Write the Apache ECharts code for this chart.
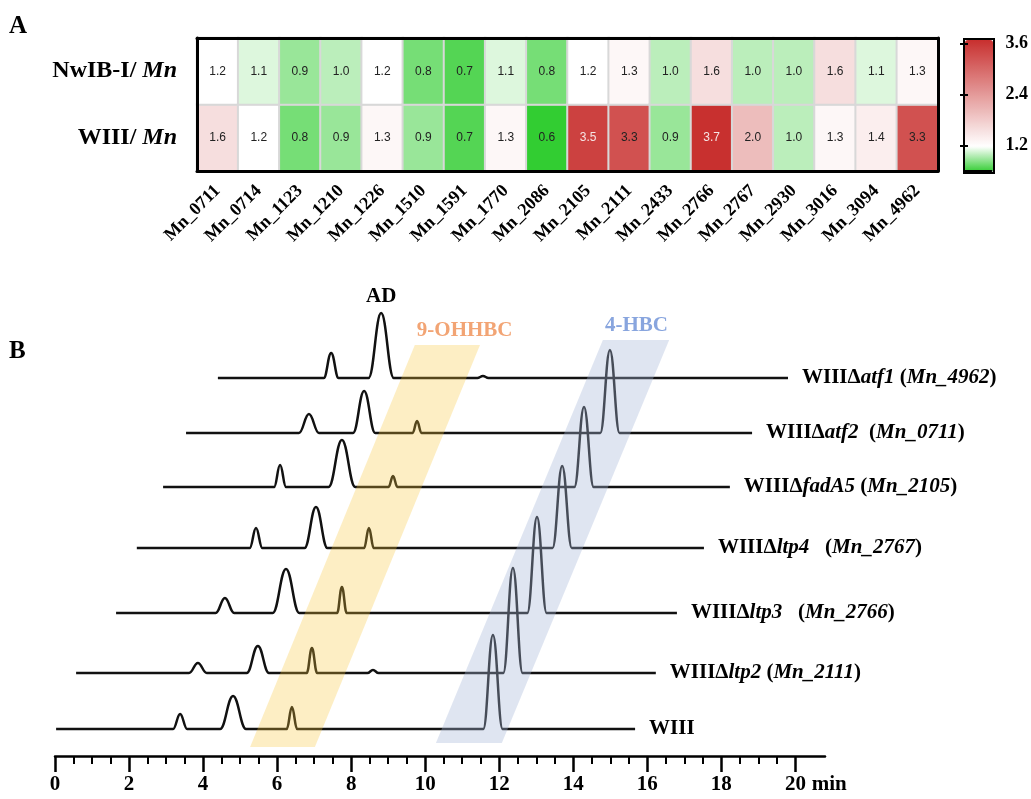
<!DOCTYPE html>
<html>
<head>
<meta charset="utf-8">
<title>Expression heatmap and HPLC traces</title>
<script src="https://cdn.jsdelivr.net/npm/echarts@6.0.0/dist/echarts.min.js"></script>
<style>
  html, body { margin: 0; padding: 0; background: #fff; }
  #main { width: 1031px; height: 799px; }
</style>
</head>
<body>
<div id="main"></div>
<script>
// ---- panel A: fold change heatmap ----
const genes = ['Mn_0711', 'Mn_0714', 'Mn_1123', 'Mn_1210', 'Mn_1226', 'Mn_1510', 'Mn_1591', 'Mn_1770', 'Mn_2086',
  'Mn_2105', 'Mn_2111', 'Mn_2433', 'Mn_2766', 'Mn_2767', 'Mn_2930', 'Mn_3016', 'Mn_3094', 'Mn_4962'];
const rowNames = ['WIII/ Mn', 'NwIB-I/ Mn'];
const nwibValues = [1.2, 1.1, 0.9, 1.0, 1.2, 0.8, 0.7, 1.1, 0.8, 1.2, 1.3, 1.0, 1.6, 1.0, 1.0, 1.6, 1.1, 1.3];
const wiiiValues = [1.6, 1.2, 0.8, 0.9, 1.3, 0.9, 0.7, 1.3, 0.6, 3.5, 3.3, 0.9, 3.7, 2.0, 1.0, 1.3, 1.4, 3.3];
const colorTicks = [1.2, 2.4, 3.6];

// ---- panel B: chromatograms (time in min, signal in arbitrary units) ----
const traceNames = ['WIII', 'ltp2', 'ltp3', 'ltp4', 'fadA5', 'atf2', 'atf1'];
const traceGenes = ['', 'Mn_2111', 'Mn_2766', 'Mn_2767', 'Mn_2105', 'Mn_0711', 'Mn_4962'];
const traceStart = [0.03, 0.57, 1.65, 2.21, 2.92, 3.54, 4.40];
const traceEnd = [15.67, 16.23, 16.80, 17.53, 18.23, 18.83, 19.80];
const traceBase = [27, 83, 143, 208, 269, 323, 378];
// peaks: [retention time, height, half base width]
const tracePeaks = [
  [[3.38, 15, 0.19], [4.81, 33, 0.35], [6.40, 22, 0.14], [11.83, 94, 0.26]],
  [[3.86, 10, 0.24], [5.48, 27, 0.30], [6.94, 25, 0.14], [8.59, 3, 0.15], [12.37, 105, 0.26]],
  [[4.59, 15, 0.25], [6.24, 44, 0.36], [7.75, 26, 0.13], [13.02, 96, 0.26]],
  [[5.43, 20, 0.17], [7.05, 41, 0.31], [8.48, 20, 0.13], [13.70, 82, 0.26]],
  [[6.08, 22, 0.16], [7.75, 47, 0.36], [9.13, 11, 0.12], [14.29, 80, 0.26]],
  [[6.86, 19, 0.27], [8.35, 42, 0.30], [9.78, 12, 0.12], [14.99, 83, 0.26]],
  [[7.46, 25, 0.20], [8.81, 65, 0.34], [11.56, 2, 0.15]]
];
const bandNames = ['9-OHHBC', '4-HBC'];
const bandBottom = [[5.27, 7.02], [10.29, 12.07]];
const bandTop = [[9.72, 11.48], [14.80, 16.59]];
const bandLevels = [[9, 411], [13, 416]];
const timeTicks = [0, 2, 4, 6, 8, 10, 12, 14, 16, 18, 20];

const serif = '"Liberation Serif", "Times New Roman", serif';
const bandFill = ['rgba(250, 200, 60, 0.3)', 'rgba(165, 182, 215, 0.36)'];
const bandText = ['#f2a474', '#88a5de'];

// minor ticks every 0.5 min between the labelled ones
const minorTicks = [];
for (let t = 0.5; t < 20; t += 0.5) {
  if (t % 2 !== 0) minorTicks.push(t);
}

// colour ramp: limegreen at 0.6, white at 1.2, red at 3.7 (stops every 0.1)
function mix(a, b, t) {
  const c = a.map((v, k) => Math.round(v + (b[k] - v) * t));
  return 'rgb(' + c.join(',') + ')';
}
const green = [50, 205, 50], white = [255, 255, 255], red = [200, 48, 47];
const rampStops = [];
for (let k = 0; k <= 31; k++) {
  rampStops.push(k <= 6 ? mix(green, white, k / 6) : mix(white, red, (k - 6) / 25));
}

const heatData = [];
genes.forEach((g, i) => {
  [wiiiValues[i], nwibValues[i]].forEach((v, r) => {
    heatData.push({ value: [i, r, v], label: { color: v > 3.4 ? '#f6e4e4' : '#222' } });
  });
});

function tracePoints(i) {
  const base = traceBase[i];
  const pts = [[traceStart[i], base]];
  tracePeaks[i].forEach(([t, h, w]) => {
    pts.push([t - w, base], [t, base + h], [t + w, base]);
  });
  pts.push([traceEnd[i], base]);
  return pts;
}

function traceLabel(i) {
  if (!traceGenes[i]) return '{b|' + traceNames[i] + '}';
  const gap = traceNames[i].startsWith('ltp3') || traceNames[i].startsWith('ltp4') ? '   ' :
    (traceNames[i] === 'atf2' ? '  ' : ' ');
  return '{b|WIIIΔ}{i|' + traceNames[i] + '}{b|' + gap + '(}{i|' + traceGenes[i] + '}{b|)}';
}

const labelRich = {
  b: { fontFamily: serif, fontWeight: 'bold', fontSize: 21, color: '#000' },
  i: { fontFamily: serif, fontWeight: 'bold', fontStyle: 'italic', fontSize: 21, color: '#000' }
};

const lineSeries = traceNames.map((name, i) => {
  const s = {
    type: 'line',
    name: name,
    xAxisIndex: 2,
    yAxisIndex: 2,
    data: tracePoints(i),
    smooth: 0.42,
    smoothMonotone: 'x',
    showSymbol: false,
    symbol: 'none',
    silent: true,
    z: 3,
    lineStyle: { color: '#111', width: 2.5 },
    endLabel: { show: true, distance: 14, formatter: traceLabel(i), rich: labelRich }
  };
  if (name === 'atf1') {
    const ad = tracePeaks[i][1];
    s.markPoint = {
      symbol: 'circle', symbolSize: 0, silent: true,
      data: [{ coord: [ad[0], traceBase[i] + ad[1]], value: 'AD' }],
      label: { show: true, position: 'top', distance: 6, formatter: 'AD', color: '#000',
        fontFamily: serif, fontWeight: 'bold', fontSize: 21 }
    };
  }
  return s;
});

var myChart = echarts.init(document.getElementById('main'));

var option = {
  animation: false,
  backgroundColor: '#fff',
  title: [
    { text: 'A', left: 9, top: 14, padding: 0, textStyle: { fontFamily: serif, fontWeight: 'bold', fontSize: 25, color: '#000' } },
    { text: 'B', left: 9, top: 339, padding: 0, textStyle: { fontFamily: serif, fontWeight: 'bold', fontSize: 25, color: '#000' } }
  ],
  grid: [
    { left: 197, top: 38, width: 741, height: 133 },
    { left: 55, top: 280, width: 770, height: 476 },
    { left: 964, top: 39, width: 28, height: 132 }
  ],
  xAxis: [
    {
      type: 'category', gridIndex: 0, data: genes, z: 10,
      axisLine: { lineStyle: { color: '#000', width: 3 } },
      axisTick: { alignWithLabel: true, length: 8, lineStyle: { color: '#000', width: 3 } },
      axisLabel: { interval: 0, rotate: 45, margin: 17, color: '#000', fontFamily: serif, fontWeight: 'bold', fontSize: 18 },
      splitLine: { show: false }
    },
    {
      type: 'category', gridIndex: 0, data: genes, position: 'top', z: 10,
      axisLine: { lineStyle: { color: '#000', width: 3 } },
      axisTick: { show: false }, axisLabel: { show: false }
    },
    {
      type: 'value', gridIndex: 1, min: 0, max: 20.8,
      axisLine: { lineStyle: { color: '#000', width: 2.5 } },
      axisTick: { customValues: timeTicks, length: 16, lineStyle: { color: '#000', width: 2.5 } },
      axisLabel: { customValues: timeTicks, margin: 18, color: '#000', fontFamily: serif, fontWeight: 'bold', fontSize: 21 },
      splitLine: { show: false },
      name: 'min', nameLocation: 'end', nameGap: 0,
      nameTextStyle: { align: 'center', verticalAlign: 'top', padding: [18, 0, 0, 0], color: '#000',
        fontFamily: serif, fontWeight: 'bold', fontSize: 21 }
    },
    {
      type: 'value', gridIndex: 1, min: 0, max: 20.8, position: 'bottom',
      axisLine: { show: false },
      axisTick: { customValues: minorTicks, length: 8, lineStyle: { color: '#000', width: 2 } },
      axisLabel: { show: false }, splitLine: { show: false }
    },
    {
      type: 'value', gridIndex: 2, min: 0, max: 1, z: 10,
      axisLine: { lineStyle: { color: '#000', width: 2 } },
      axisTick: { show: false }, axisLabel: { show: false }, splitLine: { show: false }
    },
    {
      type: 'value', gridIndex: 2, min: 0, max: 1, position: 'top', z: 10,
      axisLine: { lineStyle: { color: '#000', width: 2 } },
      axisTick: { show: false }, axisLabel: { show: false }, splitLine: { show: false }
    }
  ],
  yAxis: [
    {
      type: 'category', gridIndex: 0, data: rowNames, z: 10,
      axisLine: { lineStyle: { color: '#000', width: 3 } },
      axisTick: { alignWithLabel: true, length: 8, lineStyle: { color: '#000', width: 3 } },
      axisLabel: {
        margin: 20,
        formatter: function (v) {
          const parts = v.split('/ ');
          return '{b|' + parts[0] + '/ }{i|' + parts[1] + '}';
        },
        rich: {
          b: { fontFamily: serif, fontWeight: 'bold', fontSize: 24, color: '#000' },
          i: { fontFamily: serif, fontWeight: 'bold', fontStyle: 'italic', fontSize: 24, color: '#000' }
        }
      }
    },
    {
      type: 'category', gridIndex: 0, data: rowNames, position: 'right', z: 10,
      axisLine: { lineStyle: { color: '#000', width: 3 } },
      axisTick: { show: false }, axisLabel: { show: false }
    },
    { type: 'value', gridIndex: 1, min: 0, max: 476, show: false },
    {
      type: 'value', gridIndex: 2, min: 0.6, max: 3.7, position: 'right', z: 10,
      axisLine: { show: true, lineStyle: { color: '#000', width: 2 } },
      axisTick: { show: true, inside: true, length: 4, customValues: colorTicks, lineStyle: { color: '#000', width: 2 } },
      axisLabel: { customValues: colorTicks, margin: 14, color: '#000', fontFamily: serif, fontWeight: 'bold', fontSize: 18,
        formatter: function (v) { return v.toFixed(1); } },
      splitLine: { show: false }
    },
    {
      type: 'value', gridIndex: 2, min: 0.6, max: 3.7, position: 'left', z: 10,
      axisLine: { show: true, lineStyle: { color: '#000', width: 2 } },
      axisTick: { show: true, inside: true, length: 4, customValues: colorTicks, lineStyle: { color: '#000', width: 2 } },
      axisLabel: { show: false }, splitLine: { show: false }
    }
  ],
  visualMap: {
    type: 'continuous', seriesIndex: 0, min: 0.6, max: 3.7,
    calculable: false, hoverLink: false, show: true,
    left: 963, top: 38, itemWidth: 28, itemHeight: 132, padding: 1,
    borderColor: '#000', borderWidth: 2,
    inRange: { color: rampStops }
  },
  series: [
    {
      type: 'heatmap', xAxisIndex: 0, yAxisIndex: 0, data: heatData, silent: true,
      itemStyle: { borderColor: '#d8d8d8', borderWidth: 2 },
      label: { show: true, fontFamily: '"Liberation Sans", Arial, sans-serif', fontSize: 12,
        formatter: function (p) { return p.value[2].toFixed(1); } }
    },
    ...lineSeries,
    {
      type: 'custom', xAxisIndex: 2, yAxisIndex: 2, z: 5, silent: true,
      data: bandNames.map((n, i) => [bandBottom[i][0], bandBottom[i][1], bandTop[i][0], bandTop[i][1], bandLevels[i][0], bandLevels[i][1]]),
      renderItem: function (params, api) {
        const i = params.dataIndex;
        const y0 = api.value(4), y1 = api.value(5);
        const pts = [
          api.coord([api.value(0), y0]), api.coord([api.value(1), y0]),
          api.coord([api.value(3), y1]), api.coord([api.value(2), y1])
        ];
        return {
          type: 'group',
          children: [
            { type: 'polygon', shape: { points: pts }, style: { fill: bandFill[i] } },
            { type: 'text', x: pts[3][0] + 2, y: pts[3][1] - 4,
              style: { text: bandNames[i], fill: bandText[i], font: 'bold 21px ' + serif, align: 'left', verticalAlign: 'bottom' } }
          ]
        };
      }
    }
  ]
};

myChart.setOption(option);
</script>
</body>
</html>
